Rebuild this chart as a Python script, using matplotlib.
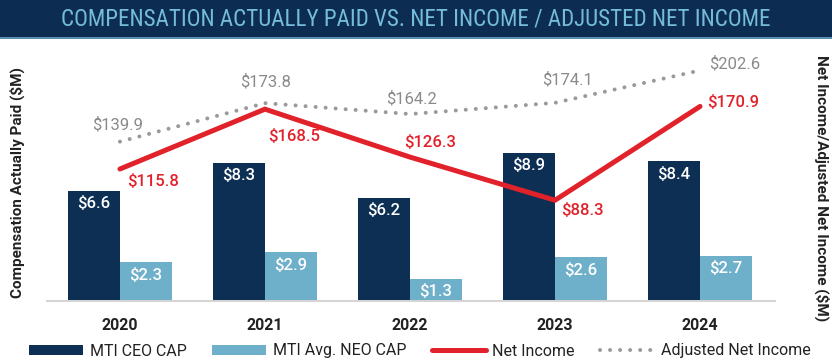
import matplotlib
matplotlib.use("Agg")
import matplotlib.pyplot as plt
from matplotlib import font_manager
from matplotlib.patches import Rectangle, Patch
from matplotlib.lines import Line2D
import numpy as np

# ---------------- data ----------------
years = ["2020", "2021", "2022", "2023", "2024"]
ceo_cap = [6.6, 8.3, 6.2, 8.9, 8.4]
neo_cap = [2.3, 2.9, 1.3, 2.6, 2.7]
net_income = [115.8, 168.5, 126.3, 88.3, 170.9]
adj_net_income = [139.9, 173.8, 164.2, 174.1, 202.6]

title = "COMPENSATION ACTUALLY PAID VS. NET INCOME / ADJUSTED NET INCOME"
ylabel_left = "Compensation Actually Paid ($M)"
ylabel_right = "Net Income/Adjusted Net Income ($M)"
legend_labels = ["MTI CEO CAP", "MTI Avg. NEO CAP", "Net Income", "Adjusted Net Income"]

# label offsets in pixels (dx, dy) -- layout only
adj_offsets = [(-2, 17), (1, 21), (2, 15.5), (12, 23), (35, 7)]
net_offsets = [(33, -12.5), (29, -27), (20, 14.6), (27, -10), (33, 4)]

# ---------------- style ----------------
NAVY = "#0d2f53"
LIGHT = "#6eafca"
RED = "#e1222b"
GRAY = "#9a9a9a"
TXT = "#222222"

names = {f.name for f in font_manager.fontManager.ttflist}
base_font = "Roboto" if "Roboto" in names else "DejaVu Sans"
plt.rcParams["font.family"] = [base_font, "DejaVu Sans"]

W, H = 832, 361
DPI = 100
PX = 72.0 / DPI  # points per pixel

fig = plt.figure(figsize=(W / DPI, H / DPI), dpi=DPI)

# axes geometry in pixels
ax_left, ax_right, ax_top, ax_bottom = 47, 775, 45, 300.5
ax = fig.add_axes([ax_left / W, (H - ax_bottom) / H,
                   (ax_right - ax_left) / W, (ax_bottom - ax_top) / H])
ax2 = ax.twinx()

x = np.arange(len(years))
bw = 0.359
b1 = ax.bar(x - bw / 2, ceo_cap, bw, color=NAVY, zorder=2)
b2 = ax.bar(x + bw / 2, neo_cap, bw, color=LIGHT, zorder=2)

ax.set_xlim(-0.503, 4.517)
ax.set_ylim(0, 15.4)
ax2.set_ylim(0, 225)

for bars, vals in ((b1, ceo_cap), (b2, neo_cap)):
    for r, v in zip(bars, vals):
        ax.annotate(f"${v:.1f}", (r.get_x() + r.get_width() / 2, v),
                    xytext=(0, -13 * PX), textcoords="offset points",
                    ha="center", va="center", color="white", fontsize=12,
                    fontweight="medium", zorder=3)

ax2.plot(x, adj_net_income, color=GRAY, lw=4 * PX, linestyle=(0, (0.01, 2.5)),
         dash_capstyle="round", solid_capstyle="round", zorder=4)
ax2.plot(x, net_income, color=RED, lw=5 * PX, solid_capstyle="round",
         solid_joinstyle="miter", zorder=5)

for xi, v, (dx, dy) in zip(x, adj_net_income, adj_offsets):
    ax2.annotate(f"${v:.1f}", (xi, v), xytext=(dx * PX, dy * PX),
                 textcoords="offset points", ha="center", va="center",
                 color="#8a8a8a", fontsize=12)
for xi, v, (dx, dy) in zip(x, net_income, net_offsets):
    ax2.annotate(f"${v:.1f}", (xi, v), xytext=(dx * PX, dy * PX),
                 textcoords="offset points", ha="center", va="center",
                 color=RED, fontsize=12, fontweight="medium")

for a in (ax, ax2):
    for s in a.spines.values():
        s.set_visible(False)
    a.tick_params(left=False, right=False, bottom=False, labelleft=False, labelright=False)
ax.spines["bottom"].set_visible(True)
ax.spines["bottom"].set_color("#d4d4d4")
ax.spines["bottom"].set_linewidth(2 * PX)
ax.set_xticks(x)
ax.set_xticklabels(years, fontsize=11.5, fontweight="bold", color=TXT)
ax.tick_params(axis="x", pad=13 * PX)

# axis titles
fig.text(17 / W, (H - 182) / H, ylabel_left, rotation=90, ha="center", va="center",
         fontsize=11, fontweight="bold", color=TXT)
fig.text(822 / W, (H - 188) / H, ylabel_right, rotation=270, ha="center", va="center",
         fontsize=11, fontweight="bold", color=TXT)

# title banner
fig.add_artist(Rectangle((0, (H - 37) / H), 1, 37 / H, transform=fig.transFigure,
                         facecolor="#0c2d51", edgecolor="none", zorder=0))
fig.add_artist(Rectangle((0, (H - 39) / H), 1, 2 / H, transform=fig.transFigure,
                         facecolor="#5a8fb0", edgecolor="none", zorder=0))
cond = None
for cand in ["Roboto Condensed", "Liberation Sans Narrow", "Arial Narrow", "DejaVu Sans Condensed"]:
    if cand in names:
        cond = cand
        break
tfont = [cond] if cond else [base_font]
tt = fig.text(416 / W, (H - 19) / H, title, ha="center", va="center",
              fontsize=15, color="#74bcd9", family=tfont + ["DejaVu Sans"])
# fit title width to ~708 px
fig.canvas.draw()
ext = tt.get_window_extent()
if ext.width > 0:
    tt.set_fontsize(15 * 708 / ext.width)

# legend
handles = [Patch(facecolor=NAVY), Patch(facecolor=LIGHT),
           Line2D([], [], color=RED, lw=5 * PX, solid_capstyle="round"),
           Line2D([], [], color=GRAY, lw=4 * PX, linestyle=(0, (0.01, 2.5)),
                  dash_capstyle="round")]
fig.legend(handles, legend_labels, loc="center", bbox_to_anchor=(420 / W, (H - 351) / H),
           ncol=4, frameon=False, fontsize=11.5, handlelength=3.4, handleheight=0.6,
           handletextpad=0.4, columnspacing=1.6, labelcolor=TXT)

fig.savefig("out.png", dpi=DPI)
